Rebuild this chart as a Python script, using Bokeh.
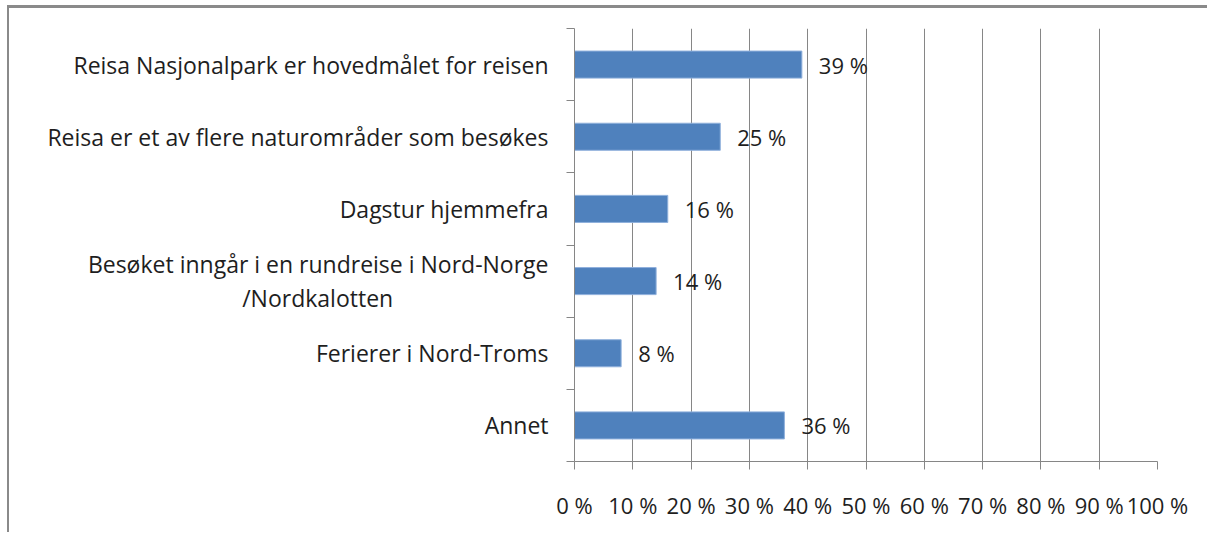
from bokeh.plotting import figure
from bokeh.models import FixedTicker, ColumnDataSource, Range1d, LabelSet
from bokeh.core.properties import value
from bokeh.embed import file_html
from bokeh.resources import INLINE

NBSP = "\u00a0"
categories = [
    "Reisa Nasjonalpark er hovedmålet for reisen",
    "Reisa er et av flere naturområder som besøkes",
    "Dagstur hjemmefra",
    "Besøket inngår i en rundreise i Nord-Norge\n/Nordkalotten" + NBSP * 26,
    "Ferierer i Nord-Troms",
    "Annet",
]
values = [39, 25, 16, 14, 8, 36]
value_labels = ["39 %", "25 %", "16 %", "14 %", "8 %", "36 %"]
x_ticks = [0, 10, 20, 30, 40, 50, 60, 70, 80, 90, 100]
x_tick_labels = ["0 %", "10 %", "20 %", "30 %", "40 %", "50 %", "60 %", "70 %", "80 %", "90 %", "100 %"]

FONT = "Open Sans"
FS = "22px"
FS_Y = "23px"
TXT = "#1e1e1e"
GRID = "#868686"
n = len(categories)
ypos = [n - i - 0.5 for i in range(n)]

src = ColumnDataSource(dict(y=ypos, v=values, lab=value_labels))

p = figure(width=1200, height=527, output_backend="svg", toolbar_location=None,
           x_range=Range1d(0, 100), y_range=Range1d(0, n),
           min_border_left=565, min_border_right=52, min_border_top=20, min_border_bottom=74)
p.styles = {"margin-left": "7px", "margin-top": "5px",
            "border-top": "3px solid #8a8a8a", "border-left": "2px solid #8a8a8a"}
p.outline_line_color = None
p.background_fill_color = "white"

p.hbar(y="y", right="v", left=0, height=0.375, source=src,
       fill_color="#4F81BD", line_color="#8FB0DC", line_width=1)

labels = LabelSet(x="v", y="y", text="lab", source=src, x_offset=17,
                  text_align="left", text_baseline="middle",
                  text_font=value(FONT), text_font_size=value(FS), text_color=value(TXT))
p.add_layout(labels)

# x axis
p.xaxis.ticker = FixedTicker(ticks=x_ticks)
p.xaxis.major_label_overrides = {t: l for t, l in zip(x_ticks, x_tick_labels)}
p.xaxis.major_tick_in = 0
p.xaxis.major_tick_out = 8
p.xaxis.minor_tick_line_color = None
p.xaxis.axis_line_color = GRID
p.xaxis.major_tick_line_color = GRID
p.xaxis.major_label_standoff = 20
p.xaxis.major_label_text_font = FONT
p.xaxis.major_label_text_font_size = FS
p.xaxis.major_label_text_color = TXT

# y axis
p.yaxis.ticker = FixedTicker(ticks=ypos, minor_ticks=list(range(n + 1)))
p.yaxis.major_label_overrides = {y: c for y, c in zip(ypos, categories)}
p.yaxis.major_tick_line_color = None
p.yaxis.minor_tick_in = 0
p.yaxis.minor_tick_out = 8
p.yaxis.minor_tick_line_color = GRID
p.yaxis.axis_line_color = GRID
p.yaxis.major_label_standoff = 18
p.yaxis.major_label_text_font = FONT
p.yaxis.major_label_text_font_size = FS_Y
p.yaxis.major_label_text_color = TXT
p.yaxis.major_label_text_align = "right"
p.yaxis.major_label_text_line_height = 1.08

p.xgrid.ticker = FixedTicker(ticks=x_ticks)
p.xgrid.grid_line_color = GRID
p.xgrid.grid_line_width = 1
p.ygrid.grid_line_color = None

open("out.html", "w").write(file_html(p, INLINE))
